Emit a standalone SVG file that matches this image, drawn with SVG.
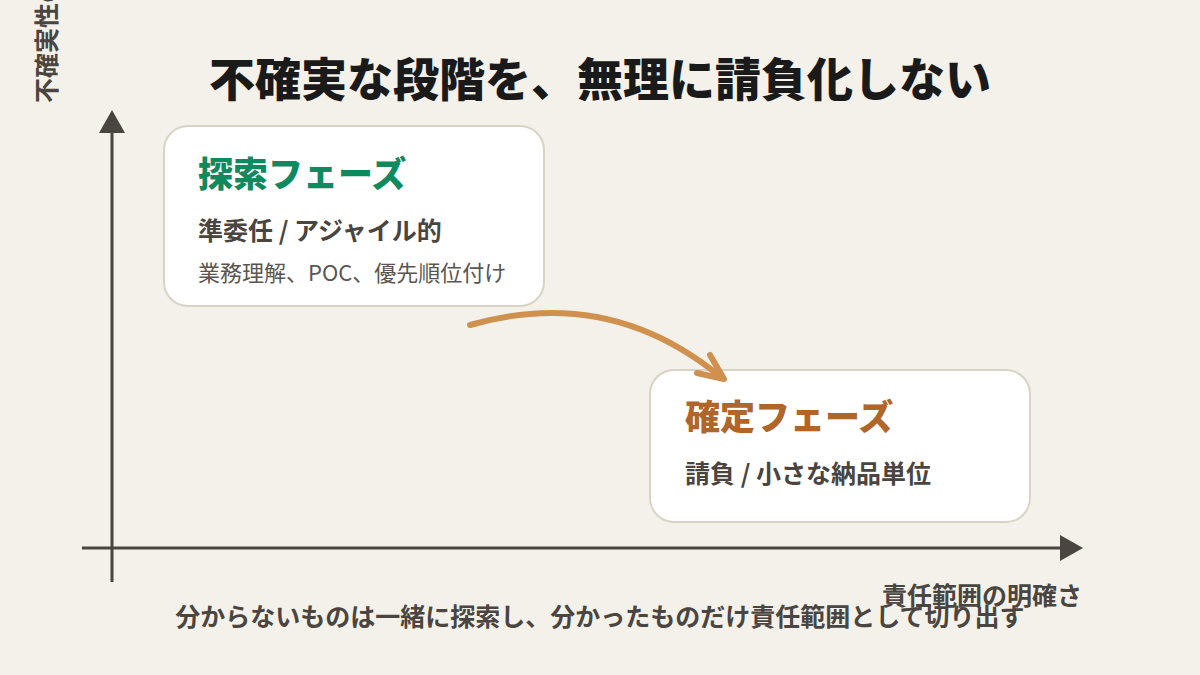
<svg xmlns="http://www.w3.org/2000/svg" width="1200" height="675" viewBox="0 0 1200 675">
<style>
text{font-family:"Noto Sans CJK JP","Noto Sans",sans-serif;}
.ax{stroke:#4a4540;stroke-width:3;fill:none}
.axh{fill:#4a4540}
.box{fill:#ffffff;stroke:#d9d3c5;stroke-width:2}
.h{font-size:35px;font-weight:900}
.sub{font-size:25px;font-weight:700;fill:#4a4540}
.det{font-size:22px;font-weight:400;fill:#5a5550}
.lbl{font-size:25px;font-weight:700;fill:#4a4540}
.flow{stroke:#d0914f;stroke-width:6;fill:none;stroke-linecap:round;stroke-linejoin:round}
</style>
<rect width="1200" height="675" fill="#f4f1ea"/>
<g id="axes">
<line class="ax" x1="112" y1="128" x2="112" y2="582"/>
<polygon class="axh" points="112,110 99,133 125,133"/>
<line class="ax" x1="82" y1="548" x2="1062" y2="548"/>
<polygon class="axh" points="1083,548 1060,535 1060,561"/>
<text class="lbl" transform="translate(56,103) rotate(-90)">不確実性の高さ</text>
<text class="lbl" x="1082" y="605" text-anchor="end">責任範囲の明確さ</text>
</g>
<text id="title" x="600" y="96" text-anchor="middle" font-size="46" font-weight="900" fill="#1a1a1a">不確実な段階を、無理に請負化しない</text>
<g id="explore">
<rect class="box" x="164" y="126" width="380" height="180" rx="24"/>
<text class="h" x="198" y="187" fill="#0f8a5f">探索フェーズ</text>
<text class="sub" x="198" y="240">準委任 / アジャイル的</text>
<text class="det" x="198" y="281">業務理解、POC、優先順位付け</text>
</g>
<g id="fixed">
<rect class="box" x="650" y="370" width="380" height="152" rx="24"/>
<text class="h" x="685" y="430" fill="#b0662a">確定フェーズ</text>
<text class="sub" x="685" y="483">請負 / 小さな納品単位</text>
</g>
<g id="connectors">
<path class="flow" d="M470,325 Q610,285 722,378"/>
<polyline class="flow" points="710,355 724,379 697,373"/>
</g>
<text id="caption" x="600" y="626" text-anchor="middle" class="lbl">分からないものは一緒に探索し、分かったものだけ責任範囲として切り出す</text>
</svg>
